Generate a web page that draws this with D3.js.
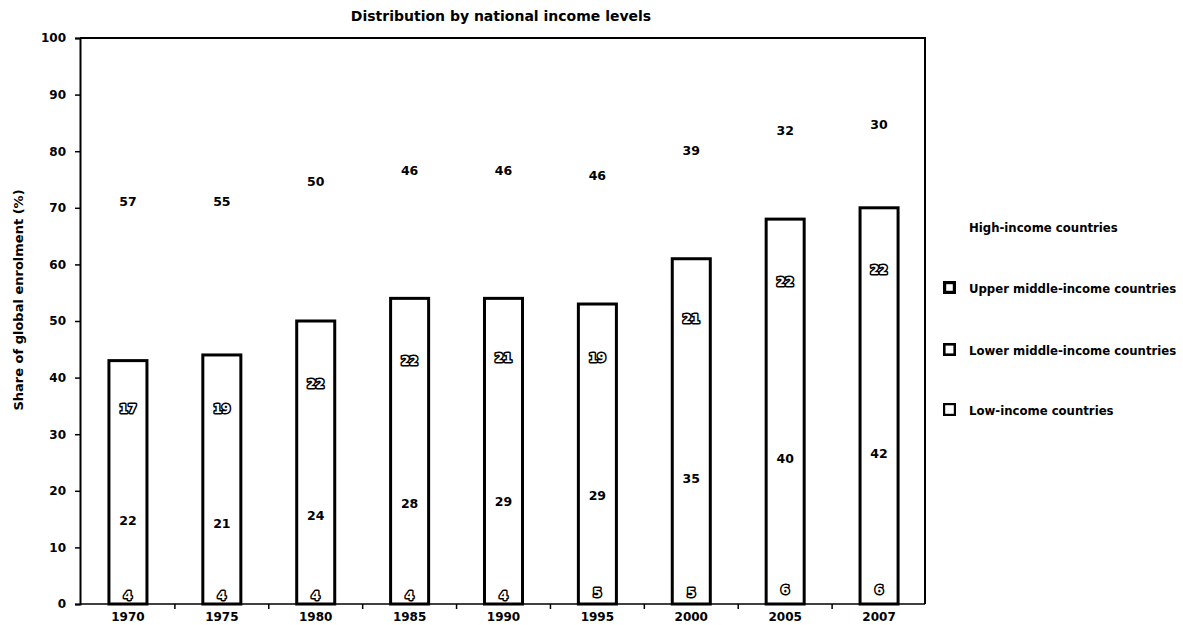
<!DOCTYPE html>
<html>
<head>
<meta charset="utf-8">
<script src="https://cdn.jsdelivr.net/npm/d3@7"></script>
<style>
  html, body { margin: 0; padding: 0; background: #fff; }
  svg { display: block; font-family: "DejaVu Sans", sans-serif; }
</style>
</head>
<body>
<svg id="chart" width="1183" height="625"></svg>
<script>
// Share of global tertiary enrolment by national income level (%)
const years = ["1970", "1975", "1980", "1985", "1990", "1995", "2000", "2005", "2007"];
const lowIncome = [4, 4, 4, 4, 4, 5, 5, 6, 6];
const lowerMiddle = [22, 21, 24, 28, 29, 29, 35, 40, 42];
const upperMiddle = [17, 19, 22, 22, 21, 19, 21, 22, 22];
const highIncome = [57, 55, 50, 46, 46, 46, 39, 32, 30];
const yTicks = [0, 10, 20, 30, 40, 50, 60, 70, 80, 90, 100];
const seriesNames = ["Low-income countries", "Lower middle-income countries",
                     "Upper middle-income countries", "High-income countries"];

const svg = d3.select("#chart");

const plot = { left: 80, right: 925, top: 38, bottom: 604 };

const y = d3.scaleLinear().domain([0, 100]).range([plot.bottom, plot.top]);
const x = d3.scaleBand().domain(years).range([plot.left + 1, plot.right + 1]).padding(0);
const barW = x.bandwidth() * 0.405;

const rows = years.map((yr, i) => ({
  year: yr,
  low: lowIncome[i],
  lowerMid: lowerMiddle[i],
  upperMid: upperMiddle[i],
  high: highIncome[i]
}));
const keys = ["low", "lowerMid", "upperMid", "high"];
const stacked = d3.stack().keys(keys)(rows);

// title
svg.append("text")
  .attr("x", 501).attr("y", 21)
  .attr("text-anchor", "middle")
  .attr("font-size", 14).attr("font-weight", "bold")
  .text("Distribution by national income levels");

// y axis title
svg.append("text")
  .attr("transform", "translate(23,300) rotate(-90)")
  .attr("text-anchor", "middle")
  .attr("font-size", 13).attr("font-weight", "bold")
  .text("Share of global enrolment (%)");

// frame: top and right edges
svg.append("path")
  .attr("d", `M${plot.left},${plot.top}H${plot.right}V${plot.bottom}`)
  .attr("fill", "none").attr("stroke", "#000").attr("stroke-width", 2);

// y axis
const yAxis = svg.append("g")
  .attr("transform", `translate(${plot.left},0)`)
  .call(d3.axisLeft(y).tickValues(yTicks).tickSize(5).tickPadding(9));
yAxis.select(".domain").attr("stroke-width", 2);
yAxis.selectAll(".tick line").attr("stroke-width", 1.5);
yAxis.selectAll(".tick text")
  .attr("font-size", 12).attr("font-weight", "bold")
  .attr("font-family", "DejaVu Sans, sans-serif").attr("fill", "#000");

// x axis baseline with ticks between categories
const xAxis = svg.append("g").attr("transform", `translate(0,${plot.bottom})`);
xAxis.append("line")
  .attr("x1", plot.left).attr("x2", plot.right)
  .attr("stroke", "#000").attr("stroke-width", 1.5);
xAxis.selectAll("line.sep")
  .data(years.slice(1))
  .join("line")
  .attr("class", "sep")
  .attr("x1", d => x(d)).attr("x2", d => x(d))
  .attr("y1", 0).attr("y2", 5)
  .attr("stroke", "#000").attr("stroke-width", 1.5);
xAxis.selectAll("text")
  .data(years)
  .join("text")
  .attr("x", d => x(d) + x.bandwidth() / 2)
  .attr("y", 17)
  .attr("text-anchor", "middle")
  .attr("font-size", 12).attr("font-weight", "bold")
  .text(d => d);

const barX = d => x(d) + (x.bandwidth() - barW) / 2;
const cx = d => x(d) + x.bandwidth() / 2;

// stacked segments (white fill) for the three lower groups
const segs = svg.append("g");
stacked.slice(0, 3).forEach(layer => {
  segs.selectAll(null)
    .data(layer)
    .join("rect")
    .attr("x", d => barX(d.data.year))
    .attr("y", d => y(d[1]))
    .attr("width", barW)
    .attr("height", d => y(d[0]) - y(d[1]))
    .attr("fill", "#fff");
});

// one outline around the three stacked groups of each bar
const topLayer = stacked[2];
svg.append("g").selectAll("rect")
  .data(topLayer)
  .join("rect")
  .attr("x", d => barX(d.data.year))
  .attr("y", d => y(d[1]))
  .attr("width", barW)
  .attr("height", d => y(0) - y(d[1]))
  .attr("fill", "none")
  .attr("stroke", "#000")
  .attr("stroke-width", 3);

// value labels, centred in each segment
const labelStyles = [
  { outlined: true, dy: 3 },   // low income
  { outlined: false, dy: 2 },  // lower middle
  { outlined: true, dy: 0 },   // upper middle
  { outlined: false, dy: 2 }   // high income
];
stacked.forEach((layer, li) => {
  const st = labelStyles[li];
  const t = svg.append("g").selectAll("text")
    .data(layer)
    .join("text")
    .attr("x", d => cx(d.data.year))
    .attr("y", d => y((d[0] + d[1]) / 2) + st.dy)
    .attr("dy", "0.35em")
    .attr("text-anchor", "middle")
    .attr("font-size", 12.5)
    .attr("font-weight", "bold")
    .text(d => d.data[keys[li]]);
  if (st.outlined) {
    t.attr("fill", "#fff")
     .attr("stroke", "#000")
     .attr("stroke-width", 3)
     .attr("stroke-linejoin", "round")
     .attr("paint-order", "stroke");
  } else {
    t.attr("fill", "#000");
  }
});

// legend
const legendItems = [
  { name: seriesNames[3], y: 227, swatch: 0 },
  { name: seriesNames[2], y: 288, swatch: 3.2 },
  { name: seriesNames[1], y: 350, swatch: 2.6 },
  { name: seriesNames[0], y: 410, swatch: 2.2 }
];
const legend = svg.append("g");
legendItems.forEach(item => {
  if (item.swatch > 0) {
    const s = 12;
    legend.append("rect")
      .attr("x", 943 + item.swatch / 2)
      .attr("y", item.y - s / 2 + item.swatch / 2 - 1)
      .attr("width", s - item.swatch + 1)
      .attr("height", s - item.swatch + 1)
      .attr("fill", "#fff")
      .attr("stroke", "#000")
      .attr("stroke-width", item.swatch);
  }
  legend.append("text")
    .attr("x", 969).attr("y", item.y)
    .attr("dy", "0.35em")
    .attr("font-size", 13)
    .attr("font-weight", "bold")
    .attr("font-stretch", "condensed")
    .attr("font-family", "DejaVu Sans Condensed, DejaVu Sans, sans-serif")
    .text(item.name);
});
</script>
</body>
</html>
